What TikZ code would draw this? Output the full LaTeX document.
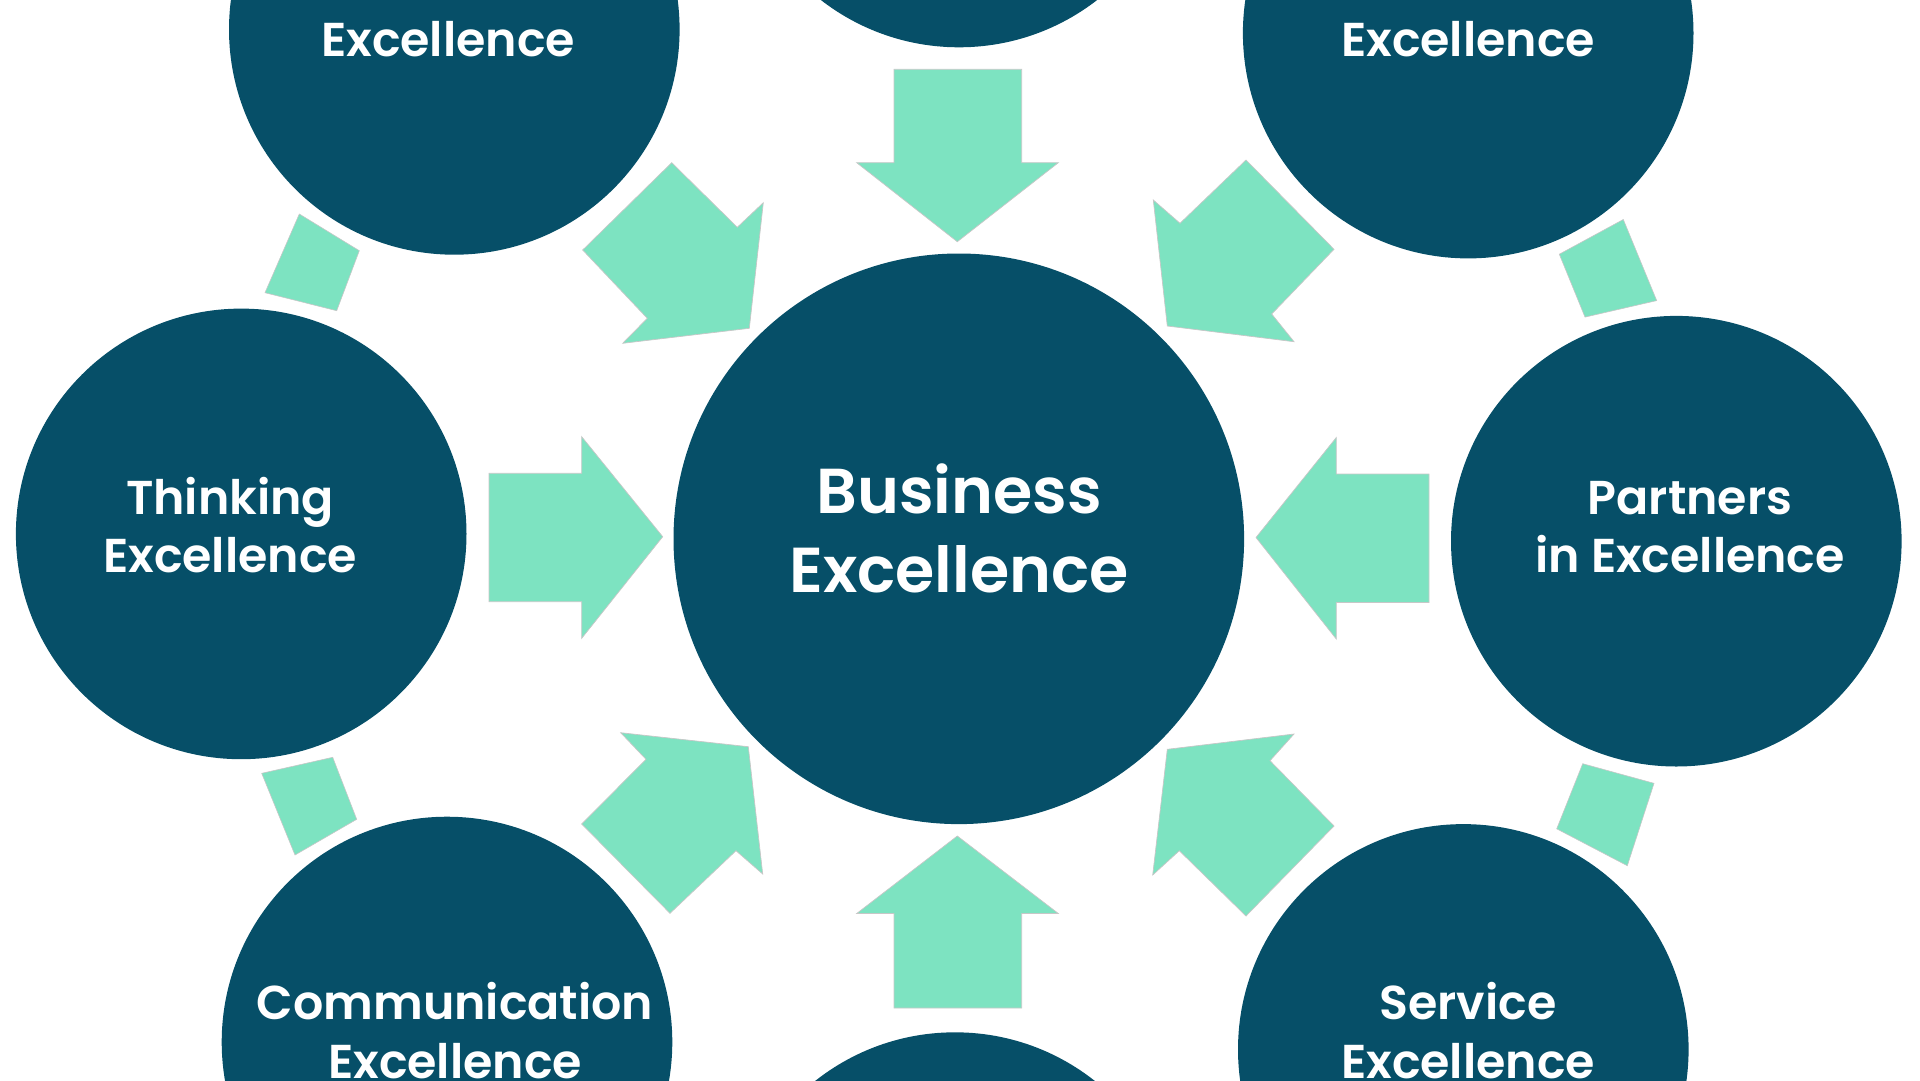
\documentclass[tikz,border=0pt]{standalone}
\usepackage{fontspec}
\setmainfont{Poppins}[BoldFont={Poppins SemiBold}]
\definecolor{deepteal}{HTML}{064F68}
\definecolor{mint}{HTML}{7DE3C1}
\begin{document}
\begin{tikzpicture}[x=1pt,y=-1pt,
  bubble/.style={circle, fill=deepteal, inner sep=0pt, minimum size=450.6pt},
  hub/.style={circle, fill=deepteal, inner sep=0pt, minimum size=570.6pt},
  lbl/.style={text=white, font=\fontsize{47.5}{58.7}\selectfont\bfseries, align=center, anchor=base, inner sep=0pt},
  biglbl/.style={text=white, font=\fontsize{63.5}{79}\selectfont\bfseries, align=center, anchor=base, inner sep=0pt},
  flow/.style={fill=mint, draw=black!22, line width=0.7pt, line join=miter},
  link/.style={fill=mint, draw=black!22, line width=0.6pt}]
\useasboundingbox (0,0) rectangle (1920,1080);
\clip (0,0) rectangle (1920,1080);

% circles
\node[hub] (hub) at (958.8,538.8) {};
\node[bubble] (think) at (241.2,533.9) {};
\node[bubble] (partner) at (1676.3,541.2) {};
\node[bubble] (tl) at (454.3,29.4) {};
\node[bubble] (tr) at (1468.2,33.1) {};
\node[bubble] (topc) at (959,-178) {};
\node[bubble] (bl) at (447,1042) {};
\node[bubble] (br) at (1463.3,1049.4) {};
\node[bubble] (botc) at (955,1257.6) {};

% labels (anchor base = baseline of the last line)
\node[biglbl] (hubT) at (959,592) {Business\\Excellence};
\node[lbl] (thinkT) at (230,572.7) {Thinking\\Excellence};
\node[lbl] (partT) at (1690,572.7) {Partners\\in Excellence};
\node[lbl] (commT) at (455,1078) {Communication\\Excellence};
\node[lbl] (servT) at (1468,1078) {Service\\Excellence};
\node[lbl] (tlT) at (448,56.5) {Excellence};
\node[lbl] (trT) at (1468,56.5) {Excellence};

% straight arrows
\draw[flow] (489,473.3) -- (581.7,473.3) -- (581.7,436.7) -- (662.7,536.7) -- (581.7,638.3) -- (581.7,601.7) -- (489,601.7) -- cycle;
\draw[flow] (1429,474) -- (1336.3,474) -- (1336.3,437.5) -- (1256,537.5) -- (1336.3,639) -- (1336.3,602.5) -- (1429,602.5) -- cycle;
\draw[flow] (894,69.3) -- (1021.7,69.3) -- (1021.7,162.7) -- (1058.3,162.7) -- (957.3,241.7) -- (856.7,162.7) -- (894,162.7) -- cycle;
\draw[flow] (894,1008) -- (1021.7,1008) -- (1021.7,913.5) -- (1058.3,913.5) -- (957.3,836) -- (856.7,913.5) -- (894,913.5) -- cycle;

% diagonal arrows
\draw[flow] (671.7,162.7) -- (737.3,227.3) -- (763.3,202.7) -- (749.3,328.3) -- (622.7,343.3) -- (647.3,318.3) -- (582.7,250) -- cycle;
\draw[flow] (1246,160) -- (1180,223.3) -- (1153.3,200) -- (1167.3,326) -- (1294,341.7) -- (1271.7,314) -- (1334,249.3) -- cycle;
\draw[flow] (670,913.3) -- (736,850.7) -- (762.7,874) -- (748.3,746.7) -- (620.7,732.7) -- (646,759.3) -- (581.7,824) -- cycle;
\draw[flow] (1246,916) -- (1179.3,850.7) -- (1152.7,875) -- (1167.3,749.3) -- (1294,734) -- (1270,760.7) -- (1334,826) -- cycle;

% link squares between outer circles
\draw[link] (299.3,214) -- (359.3,250.7) -- (336.7,310.7) -- (265,292.7) -- cycle;
\draw[link] (261.7,773.3) -- (332.7,757.3) -- (356.7,819.3) -- (295,855) -- cycle;
\draw[link] (1623.3,219.5) -- (1656.7,300.6) -- (1585,317.1) -- (1559.3,254.2) -- cycle;
\draw[link] (1582.7,763.7) -- (1654,783.3) -- (1627.3,865.7) -- (1556.7,828.8) -- cycle;
\end{tikzpicture}
\end{document}
